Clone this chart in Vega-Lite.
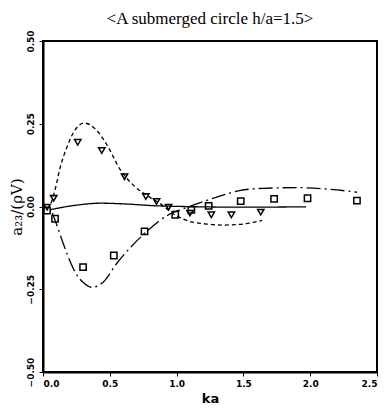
{
  "$schema": "https://vega.github.io/schema/vega-lite/v6.json",
  "width": 334,
  "height": 331,
  "autosize": {"type": "none"},
  "padding": {"left": 43, "top": 41, "right": 9, "bottom": 37},
  "background": "white",
  "title": {"text": "<A submerged circle h/a=1.5>", "font": "Liberation Serif", "fontSize": 17, "fontWeight": "normal", "color": "black", "offset": 2, "anchor": "middle"},
  "config": {"view": {"stroke": "black", "strokeWidth": 2}},
  "datasets": {
    "curves": [
      {"curve": "dashed", "x": 0.06, "y": 0.01},
      {"curve": "dashed", "x": 0.09, "y": 0.05},
      {"curve": "dashed", "x": 0.13, "y": 0.12},
      {"curve": "dashed", "x": 0.18, "y": 0.18},
      {"curve": "dashed", "x": 0.23, "y": 0.225},
      {"curve": "dashed", "x": 0.31, "y": 0.252},
      {"curve": "dashed", "x": 0.39, "y": 0.235},
      {"curve": "dashed", "x": 0.48, "y": 0.185},
      {"curve": "dashed", "x": 0.58, "y": 0.11},
      {"curve": "dashed", "x": 0.68, "y": 0.063},
      {"curve": "dashed", "x": 0.78, "y": 0.033},
      {"curve": "dashed", "x": 0.88, "y": 0.008},
      {"curve": "dashed", "x": 0.975, "y": -0.022},
      {"curve": "dashed", "x": 1.075, "y": -0.042},
      {"curve": "dashed", "x": 1.225, "y": -0.053},
      {"curve": "dashed", "x": 1.35, "y": -0.056},
      {"curve": "dashed", "x": 1.47, "y": -0.054},
      {"curve": "dashed", "x": 1.56, "y": -0.049},
      {"curve": "dashed", "x": 1.64, "y": -0.042},
      {"curve": "dashdot", "x": 0.07, "y": -0.02},
      {"curve": "dashdot", "x": 0.1, "y": -0.052},
      {"curve": "dashdot", "x": 0.15, "y": -0.11},
      {"curve": "dashdot", "x": 0.2, "y": -0.163},
      {"curve": "dashdot", "x": 0.25, "y": -0.205},
      {"curve": "dashdot", "x": 0.3, "y": -0.229},
      {"curve": "dashdot", "x": 0.365, "y": -0.244},
      {"curve": "dashdot", "x": 0.45, "y": -0.229},
      {"curve": "dashdot", "x": 0.55, "y": -0.173},
      {"curve": "dashdot", "x": 0.68, "y": -0.113},
      {"curve": "dashdot", "x": 0.8, "y": -0.067},
      {"curve": "dashdot", "x": 0.93, "y": -0.027},
      {"curve": "dashdot", "x": 1.05, "y": -0.007},
      {"curve": "dashdot", "x": 1.15, "y": 0.008},
      {"curve": "dashdot", "x": 1.3, "y": 0.028},
      {"curve": "dashdot", "x": 1.47, "y": 0.048},
      {"curve": "dashdot", "x": 1.65, "y": 0.055},
      {"curve": "dashdot", "x": 1.9, "y": 0.057},
      {"curve": "dashdot", "x": 2.15, "y": 0.052},
      {"curve": "dashdot", "x": 2.35, "y": 0.043},
      {"curve": "solid", "x": 0.05, "y": -0.01},
      {"curve": "solid", "x": 0.23, "y": 0.003},
      {"curve": "solid", "x": 0.43, "y": 0.01},
      {"curve": "solid", "x": 0.6, "y": 0.008},
      {"curve": "solid", "x": 0.85, "y": 0.002},
      {"curve": "solid", "x": 1.05, "y": 0.0},
      {"curve": "solid", "x": 1.47, "y": -0.002},
      {"curve": "solid", "x": 1.97, "y": -0.001}
    ],
    "points": [
      {"kind": "tri", "x": 0.03, "y": -0.002},
      {"kind": "tri", "x": 0.08, "y": 0.025},
      {"kind": "tri", "x": 0.26, "y": 0.194},
      {"kind": "tri", "x": 0.44, "y": 0.169},
      {"kind": "tri", "x": 0.61, "y": 0.09},
      {"kind": "tri", "x": 0.77, "y": 0.03},
      {"kind": "tri", "x": 0.85, "y": 0.015},
      {"kind": "tri", "x": 0.94, "y": -0.002},
      {"kind": "tri", "x": 1.1, "y": -0.02},
      {"kind": "tri", "x": 1.26, "y": -0.025},
      {"kind": "tri", "x": 1.41, "y": -0.025},
      {"kind": "tri", "x": 1.63, "y": -0.017},
      {"kind": "sq", "x": 0.03, "y": -0.012},
      {"kind": "sq", "x": 0.09, "y": -0.037},
      {"kind": "sq", "x": 0.3, "y": -0.183},
      {"kind": "sq", "x": 0.53, "y": -0.148},
      {"kind": "sq", "x": 0.76, "y": -0.075},
      {"kind": "sq", "x": 0.99, "y": -0.025},
      {"kind": "sq", "x": 1.11, "y": -0.01},
      {"kind": "sq", "x": 1.24, "y": 0.002},
      {"kind": "sq", "x": 1.48, "y": 0.016},
      {"kind": "sq", "x": 1.73, "y": 0.023},
      {"kind": "sq", "x": 1.98, "y": 0.025},
      {"kind": "sq", "x": 2.35, "y": 0.018}
    ]
  },
  "encoding": {
    "x": {
      "field": "x", "type": "quantitative",
      "scale": {"domain": [0, 2.5], "nice": false},
      "axis": {"values": [0, 0.5, 1, 1.5, 2, 2.5], "format": ".1f", "title": "ka", "grid": false,
        "domain": true, "domainColor": "black", "domainWidth": 2, "tickColor": "black", "tickSize": 4,
        "labelFont": "DejaVu Sans", "labelFontWeight": "bold", "labelFontSize": 9, "labelColor": "black", "labelPadding": 3,
        "titleFont": "DejaVu Sans", "titleFontWeight": "bold", "titleFontSize": 13, "titleColor": "black", "titlePadding": 4}
    },
    "y": {
      "field": "y", "type": "quantitative",
      "scale": {"domain": [-0.5, 0.5], "nice": false},
      "axis": {"values": [-0.5, -0.25, 0, 0.25, 0.5], "format": ".2f", "title": "a₂₃/(ρV)", "grid": false,
        "domain": true, "domainColor": "black", "domainWidth": 2, "tickColor": "black", "tickSize": 4,
        "labelAngle": 270, "labelAlign": "center", "labelBaseline": "bottom",
        "labelFont": "DejaVu Sans", "labelFontWeight": "bold", "labelFontSize": 9, "labelColor": "black", "labelPadding": 4,
        "titleFont": "DejaVu Serif", "titleFontWeight": "normal", "titleFontSize": 15, "titleColor": "black", "titlePadding": 2}
    }
  },
  "layer": [
    {
      "data": {"name": "curves"},
      "mark": {"type": "line", "color": "black", "strokeWidth": 1.3, "interpolate": "monotone"},
      "encoding": {
        "detail": {"field": "curve", "type": "nominal"},
        "strokeDash": {"field": "curve", "type": "nominal",
          "scale": {"domain": ["dashed", "dashdot", "solid"], "range": [[4, 3], [14, 4, 2, 4], [1, 0]]},
          "legend": null}
      }
    },
    {
      "data": {"name": "points"},
      "mark": {"type": "point", "filled": false, "color": "black", "strokeWidth": 1.5, "size": 40, "opacity": 1},
      "encoding": {
        "shape": {"field": "kind", "type": "nominal",
          "scale": {"domain": ["tri", "sq"], "range": ["triangle-down", "square"]},
          "legend": null}
      }
    }
  ]
}
